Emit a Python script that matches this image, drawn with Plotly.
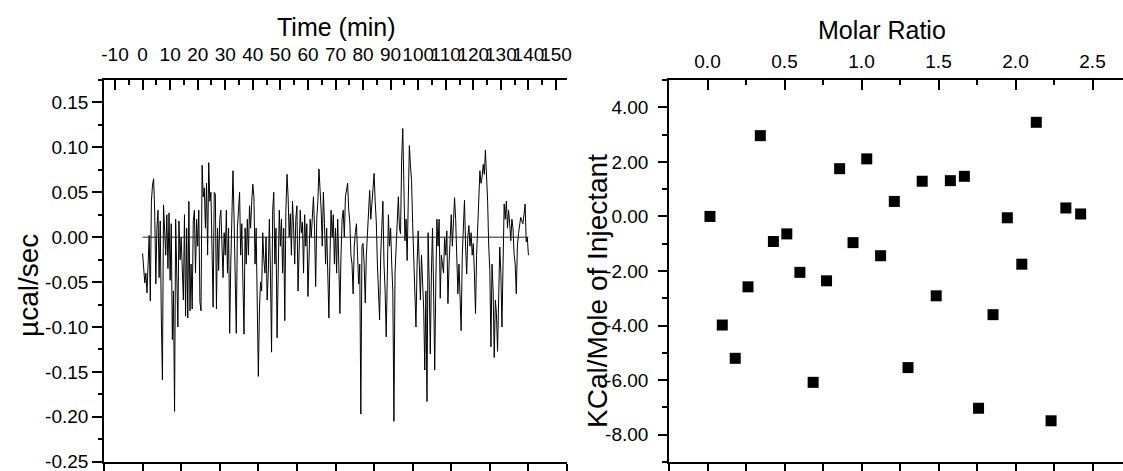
import plotly.graph_objects as go

# ---------------- data ----------------
# raw ITC thermogram, one reading every 0.4 min from 0 to 140 min (ucal/sec)
heat_rate = [
    # 0 - 10 min
    -0.018, -0.032, -0.051, -0.040, -0.062, -0.030, 0.002, -0.071, 0.040, 0.058,
    0.065, 0.028, -0.052, 0.010, 0.030, -0.045, 0.018, -0.090, -0.159, 0.036,
    0.012, -0.020, 0.025, -0.035, 0.027,
    # 10 - 20
    -0.048, 0.015, -0.114, -0.060, -0.194, 0.020, -0.030, -0.100, 0.018, -0.025,
    0.000, -0.050, -0.070, 0.025, -0.088, 0.010, -0.090, 0.040, -0.082, -0.030,
    -0.080, 0.018, 0.030, -0.040, 0.020,
    # 20 - 30
    -0.010, 0.030, -0.072, -0.082, 0.080, 0.045, 0.055, 0.010, 0.060, -0.020,
    0.083, 0.040, 0.050, -0.030, -0.078, 0.050, 0.048, -0.080, 0.010, -0.037,
    0.020, 0.030, -0.010, -0.045, 0.005,
    # 30 - 40
    -0.020, 0.030, -0.040, 0.010, -0.107, -0.030, 0.035, 0.074, 0.020, -0.040,
    -0.107, 0.010, 0.030, 0.050, -0.020, 0.015, -0.050, -0.108, 0.010, -0.030,
    0.020, -0.020, 0.035, 0.010, 0.040,
    # 40 - 50
    0.059, 0.045, -0.030, 0.010, -0.060, -0.155, -0.080, -0.050, -0.060, 0.005,
    -0.025, -0.040, 0.000, -0.070, -0.040, 0.020, -0.040, -0.128, 0.030, 0.050,
    -0.030, 0.010, -0.112, -0.020, 0.030,
    # 50 - 60
    -0.010, 0.020, -0.040, 0.010, -0.093, 0.030, 0.070, 0.045, 0.000, 0.026,
    -0.020, 0.040, 0.010, -0.030, 0.020, 0.035, -0.060, -0.020, 0.030, 0.005,
    0.017, -0.040, 0.025, -0.010, 0.015,
    # 60 - 70
    -0.066, -0.020, 0.020, 0.000, 0.030, 0.045, 0.010, -0.055, 0.020, 0.040,
    0.076, 0.055, 0.030, -0.010, 0.050, 0.015, -0.030, 0.010, -0.060, -0.090,
    -0.020, 0.030, 0.000, 0.025, -0.030,
    # 70 - 80
    0.010, -0.040, 0.020, -0.030, -0.085, -0.020, 0.020, 0.030, 0.000, 0.045,
    0.055, 0.060, 0.030, 0.017, -0.020, -0.030, -0.063, -0.010, 0.005, 0.015,
    -0.020, -0.052, -0.030, -0.197, -0.010,
    # 80 - 90
    -0.007, -0.030, -0.073, -0.020, 0.010, 0.030, 0.052, 0.020, 0.035, 0.050,
    0.071, 0.040, 0.017, -0.030, -0.060, -0.092, -0.020, 0.020, 0.040, -0.030,
    -0.060, -0.111, -0.020, 0.025, -0.010,
    # 90 - 100
    0.010, -0.030, -0.060, -0.205, -0.040, -0.011, 0.020, 0.045, 0.010, 0.004,
    0.085, 0.121, 0.060, -0.004, 0.020, -0.026, 0.040, 0.102, 0.080, 0.063,
    0.015, -0.030, -0.060, -0.100, -0.030,
    # 100 - 110
    0.007, -0.030, -0.070, -0.020, -0.047, -0.080, -0.148, -0.060, -0.183, 0.005,
    -0.050, -0.130, -0.040, 0.010, -0.060, -0.148, -0.050, 0.020, -0.010, 0.020,
    -0.068, -0.020, -0.030, -0.040, 0.000,
    # 110 - 120
    -0.020, 0.007, -0.074, -0.030, 0.010, 0.025, -0.010, 0.030, 0.044, 0.020,
    -0.020, -0.063, -0.030, -0.060, -0.104, -0.020, 0.020, 0.041, -0.010, -0.041,
    0.000, 0.013, -0.010, 0.005, -0.020,
    # 120 - 130
    -0.007, -0.040, -0.085, -0.020, 0.011, 0.050, 0.074, 0.060, 0.067, 0.081,
    0.070, 0.097, 0.070, 0.040, -0.010, -0.037, -0.122, -0.030, -0.060, -0.134,
    -0.070, -0.085, -0.127, -0.040, -0.011,
    # 130 - 140
    -0.040, -0.100, -0.030, 0.037, 0.020, 0.040, 0.010, 0.030, 0.015, -0.004,
    0.020, 0.010, -0.019, -0.030, -0.063, -0.010, 0.004, 0.015, 0.022, 0.018,
    0.015, 0.025, 0.037, -0.005, 0.000,
    -0.020,
]
sample_step_min = 0.4
time_min = [round(i * sample_step_min, 1) for i in range(len(heat_rate))]

baseline_time = [0, 140]
baseline_rate = [0.0, 0.0]

# integrated heats per injection
molar_ratio = [0.016, 0.096, 0.180, 0.263, 0.343, 0.428, 0.515, 0.600, 0.686, 0.773,
               0.858, 0.945, 1.034, 1.124, 1.213, 1.302, 1.394, 1.485, 1.577, 1.668,
               1.760, 1.854, 1.947, 2.041, 2.135, 2.231, 2.327, 2.423]
kcal_per_mole = [0.00, -3.98, -5.20, -2.58, 2.96, -0.92, -0.64, -2.05, -6.08, -2.36,
                 1.75, -0.96, 2.11, -1.44, 0.55, -5.54, 1.29, -2.91, 1.31, 1.47,
                 -7.03, -3.60, -0.05, -1.75, 3.45, -7.49, 0.31, 0.09]

# tick labels
time_ticks = list(range(-10, 151, 10))
rate_ticks = [0.15, 0.10, 0.05, 0.00, -0.05, -0.10, -0.15, -0.20, -0.25]
ratio_ticks = [0.0, 0.5, 1.0, 1.5, 2.0, 2.5]
heat_ticks = [4, 2, 0, -2, -4, -6, -8]

# ---------------- figure ----------------
W, H = 1123, 471
FONT = "Liberation Sans, Arial, sans-serif"
BLACK = "#000000"


def px_x(p):
    return p / W


def px_y(p):
    return 1 - p / H


left_dom = [px_x(104), px_x(567)]
right_dom = [px_x(669), 1.0]
y_dom = [px_y(462), px_y(80)]
rate_range = [-0.2503, 0.175]
time_range = [-14, 154]
ratio_range = [-0.25, 2.698]
heat_range = [-9, 5]

fig = go.Figure()

# zero baseline (bound to the bottom time axis, same scale as the top one)
fig.add_trace(go.Scatter(x=baseline_time, y=baseline_rate, mode="lines",
                         line=dict(color="#222222", width=1),
                         xaxis="x3", yaxis="y", showlegend=False, hoverinfo="skip"))
fig.add_trace(go.Scatter(x=time_min, y=heat_rate, mode="lines",
                         line=dict(color="#000000", width=1),
                         xaxis="x", yaxis="y", showlegend=False))
# transparent copy on the bottom ratio axis so that axis is drawn
fig.add_trace(go.Scatter(x=molar_ratio, y=kcal_per_mole, mode="markers",
                         marker=dict(symbol="square", size=11, color=BLACK, opacity=0),
                         xaxis="x4", yaxis="y2", showlegend=False, hoverinfo="skip"))
fig.add_trace(go.Scatter(x=molar_ratio, y=kcal_per_mole, mode="markers",
                         marker=dict(symbol="square", size=11, color=BLACK,
                                     line=dict(width=0)),
                         xaxis="x2", yaxis="y2", showlegend=False))

tickfont = dict(family=FONT, size=19, color=BLACK)
line_common = dict(showline=True, linecolor=BLACK, linewidth=1.6, automargin=False,
                   tickcolor=BLACK, tickwidth=1.5, showgrid=False, zeroline=False)

fig.update_layout(
    width=W, height=H,
    margin=dict(l=0, r=0, t=0, b=0, pad=0),
    paper_bgcolor="white", plot_bgcolor="white",
    font=dict(family=FONT, color=BLACK),
    showlegend=False,
    # ---- left panel ----
    xaxis=dict(domain=left_dom, anchor="y", side="top", range=time_range,
               tickmode="array", tickvals=time_ticks,
               ticktext=[str(v) for v in time_ticks],
               ticks="inside", ticklen=10, tickangle=0, tickfont=tickfont,
               ticklabelstandoff=10,
               minor=dict(tickmode="linear", tick0=0, dtick=5, ticks="inside",
                          ticklen=5, tickcolor=BLACK, tickwidth=1.5),
               **line_common),
    xaxis3=dict(overlaying="x", anchor="y", side="bottom", range=time_range,
                tickmode="linear", tick0=0, dtick=14, ticks="outside", ticklen=8,
                showticklabels=False, **line_common),
    yaxis=dict(domain=y_dom, anchor="x", range=rate_range,
               tickmode="array", tickvals=rate_ticks,
               ticktext=[f"{v:.2f}" for v in rate_ticks],
               ticks="outside", ticklen=10, tickfont=tickfont,
               ticklabelstandoff=0, ticklabeloverflow="allow",
               minor=dict(tickmode="linear", tick0=0, dtick=0.025, ticks="outside",
                          ticklen=4, tickcolor=BLACK, tickwidth=1.5),
               **line_common),
    yaxis3=dict(overlaying="y", anchor="x", side="right", range=rate_range,
                tickmode="linear", tick0=0, dtick=0.05, ticks="inside", ticklen=9,
                showticklabels=False,
                minor=dict(tickmode="linear", tick0=0, dtick=0.025, ticks="inside",
                           ticklen=4, tickcolor=BLACK, tickwidth=1.5),
                **line_common),
    # ---- right panel ----
    xaxis2=dict(domain=right_dom, anchor="y2", side="top", range=ratio_range,
                tickmode="array", tickvals=ratio_ticks,
                ticktext=[f"{v:.1f}" for v in ratio_ticks],
                ticks="inside", ticklen=10, tickangle=0, tickfont=tickfont,
                ticklabelstandoff=3,
                minor=dict(tickmode="linear", tick0=0, dtick=0.25, ticks="inside",
                           ticklen=5, tickcolor=BLACK, tickwidth=1.5),
                **line_common),
    xaxis4=dict(overlaying="x2", anchor="y2", side="bottom", range=ratio_range,
                tickmode="linear", tick0=0, dtick=0.25, ticks="outside", ticklen=7,
                showticklabels=False, **line_common),
    yaxis2=dict(domain=y_dom, anchor="x2", range=heat_range,
                tickmode="array", tickvals=heat_ticks,
                ticktext=[f"{v:.2f}" for v in heat_ticks],
                ticks="outside", ticklen=9, tickfont=tickfont,
                ticklabelstandoff=6,
                minor=dict(tickmode="linear", tick0=0, dtick=1, ticks="outside",
                           ticklen=5, tickcolor=BLACK, tickwidth=1.5),
                **line_common),
    yaxis4=dict(overlaying="y2", anchor="x2", side="right", range=heat_range,
                tickmode="linear", tick0=0, dtick=2, ticks="inside", ticklen=4,
                showticklabels=False, showline=False, tickcolor=BLACK, tickwidth=1.5,
                showgrid=False, zeroline=False, automargin=False),
)

title_font = dict(family=FONT, size=25, color=BLACK)
ylab_font = dict(family=FONT, size=28, color=BLACK)
fig.add_annotation(text="Time (min)", x=px_x(336), y=px_y(27), xref="paper", yref="paper",
                   xanchor="center", yanchor="middle", showarrow=False, font=title_font)
fig.add_annotation(text="Molar Ratio", x=px_x(882), y=px_y(30), xref="paper", yref="paper",
                   xanchor="center", yanchor="middle", showarrow=False, font=title_font)
fig.add_annotation(text="µcal/sec", x=px_x(28), y=px_y(286), xref="paper", yref="paper",
                   xanchor="center", yanchor="middle", showarrow=False, textangle=-90,
                   font=ylab_font)
fig.add_annotation(text="KCal/Mole of Injectant", x=px_x(597), y=px_y(291),
                   xref="paper", yref="paper", xanchor="center", yanchor="middle",
                   showarrow=False, textangle=-90, font=ylab_font)

fig.write_html("out.html",
               config={"displayModeBar": False},
               post_script="document.body.style.margin='0px';"
                           "document.body.style.overflow='hidden';")
